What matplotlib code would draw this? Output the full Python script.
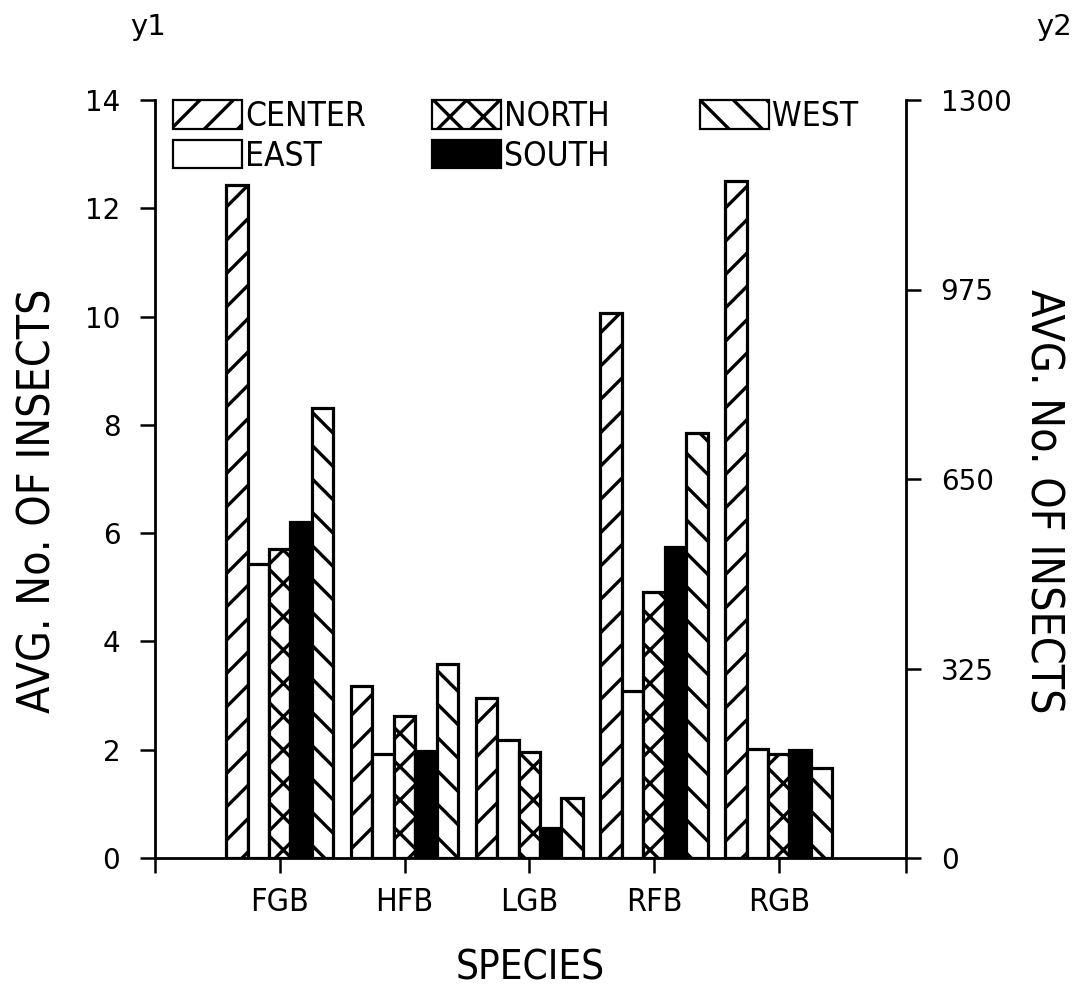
import matplotlib
matplotlib.use("Agg")
import matplotlib.pyplot as plt
import numpy as np
from matplotlib.patches import Patch

species = ["FGB", "HFB", "LGB", "RFB", "RGB"]
series_names = ["CENTER", "EAST", "NORTH", "SOUTH", "WEST"]
center = [12.43, 3.17, 2.95, 10.07, 12.50]
east = [5.43, 1.92, 2.18, 3.08, 2.02]
north = [5.70, 2.63, 1.95, 4.92, 1.93]
south = [6.20, 1.97, 0.55, 5.75, 1.99]
west = [8.32, 3.58, 1.10, 7.85, 1.67]
y1_ticks = [0, 2, 4, 6, 8, 10, 12, 14]
y2_ticks = [0, 325, 650, 975, 1300]

plt.rcParams['font.family'] = ['DejaVu Sans']
plt.rcParams['hatch.linewidth'] = 2.4
plt.rcParams['hatch.color'] = 'black'

fig = plt.figure(figsize=(10.84, 9.89), dpi=100)
ax = fig.add_axes([155/1084, 1-858/989, 751/1084, 758/989])

values = [center, east, north, south, west]
styles = [
    dict(facecolor='white', hatch='/'),
    dict(facecolor='white', hatch=None),
    dict(facecolor='white', hatch='x'),
    dict(facecolor='black', hatch=None),
    dict(facecolor='white', hatch='\\'),
]
x = np.arange(1, len(species) + 1)
w = 0.172
for i, (vals, st) in enumerate(zip(values, styles)):
    ax.bar(x + (i - 2) * w, vals, width=w, edgecolor='black', linewidth=2.3,
           facecolor=st['facecolor'], hatch=st['hatch'], zorder=2)

ax.set_xlim(0, 6.02)
ax.set_ylim(0, 14)
ax.set_yticks(y1_ticks)
ax.set_yticklabels([str(t) for t in y1_ticks], fontsize=20)
ax.set_xticks([0, 1, 2, 3, 4, 5, 6.02])
ax.set_xticklabels([""] + species + [""], fontsize=23, fontstretch='condensed')
ax.tick_params(axis='both', direction='out', length=11, width=1.8, pad=10)
ax.tick_params(axis='y', pad=14)
for s in ['top', 'right']:
    ax.spines[s].set_visible(False)
for s in ['left', 'bottom']:
    ax.spines[s].set_linewidth(2.0)
ax.set_xlabel("SPECIES", fontsize=29, labelpad=22, fontstretch='condensed')
ax.set_ylabel("AVG. No. OF INSECTS", fontsize=32, labelpad=18, fontstretch='condensed')
ax.yaxis.label.set_y((858 - 501) / 758)

ax2 = ax.twinx()
ax2.set_ylim(0, 1300)
ax2.set_yticks(y2_ticks)
ax2.set_yticklabels([str(t) for t in y2_ticks], fontsize=20)
ax2.tick_params(axis='y', direction='out', length=11, width=1.8, pad=14)
for s in ['top', 'left', 'bottom']:
    ax2.spines[s].set_visible(False)
ax2.spines['right'].set_linewidth(2.0)
ax2.set_ylabel("AVG. No. OF INSECTS", fontsize=32, rotation=-90, labelpad=38,
               fontstretch='condensed')
ax2.yaxis.label.set_y((858 - 501) / 758)

fig.text(130/1084, 1-27/989, "y1", fontsize=21, ha='left', va='center')
fig.text(1036/1084, 1-27/989, "y2", fontsize=21, ha='left', va='center')

handles = [Patch(facecolor=st['facecolor'], edgecolor='black', hatch=st['hatch'],
                 linewidth=1.6, label=n) for st, n in zip(styles, series_names)]
cols = [([0, 1], 173), ([2, 3], 432), ([4], 700)]
legs = []
for idx, xp in cols:
    leg = ax2.legend([handles[k] for k in idx], [series_names[k] for k in idx],
                     loc='upper left', bbox_to_anchor=(xp / 1084, 1 - 100 / 989),
                     bbox_transform=fig.transFigure, frameon=False, fontsize=24,
                     handlelength=2.07, handleheight=0.93, handletextpad=0.1,
                     labelspacing=0.2, borderpad=0, borderaxespad=0)
    for t in leg.get_texts():
        t.set_fontstretch('condensed')
    legs.append(leg)
for leg in legs[:-1]:
    ax2.add_artist(leg)

fig.savefig("out.png", dpi=100)
